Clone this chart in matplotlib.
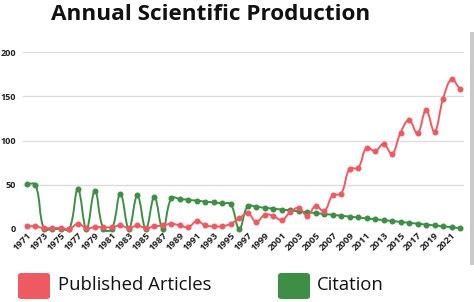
import numpy as np
import matplotlib
matplotlib.use("Agg")
import matplotlib.pyplot as plt
from matplotlib.path import Path
from matplotlib.patches import PathPatch, FancyBboxPatch, Rectangle

years = list(range(1971, 2023))

published = [3, 3, 1, 1, 1, 0, 6, 1, 2, 2, 2, 4, 1, 4, 1, 3, 4, 6, 4, 2,
             9, 4, 3, 3, 6, 12, 18, 8, 16, 15, 10, 19, 24, 15, 26, 20, 38, 40, 68, 69,
             92, 88, 96, 85, 109, 123, 108, 134, 110, 147, 169, 158]

citation = [51, 50, 0, 0, 0, 0, 45, 0, 43, 0, 0, 40, 0, 38, 0, 36, 0, 35, 34, 33,
            32, 31, 30, 29, 28, 0, 26, 25, 24, 23, 22, 21, 20, 19, 18, 17, 16, 15, 14, 13,
            12, 11, 10, 9, 8, 7, 6, 5, 4, 3, 2, 1]

tick_years = list(range(1971, 2022, 2))
y_ticks = [0, 50, 100, 150, 200]

series_names = ["Published Articles", "Citation"]
RED = "#ee5a62"
GREEN = "#3e8e46"
FONT = ["Open Sans", "DejaVu Sans"]


def smooth_path(ax, xs, ys, tension=0.4):
    """Bezier path through the points, chart.js style spline."""
    pts = ax.transData.transform(np.column_stack([xs, ys]))
    n = len(pts)
    verts = [pts[0]]
    codes = [Path.MOVETO]
    ctrl_prev = []
    ctrl_next = []
    for i in range(n):
        p0 = pts[max(i - 1, 0)]
        p1 = pts[i]
        p2 = pts[min(i + 1, n - 1)]
        d01 = np.hypot(*(p1 - p0))
        d12 = np.hypot(*(p2 - p1))
        tot = d01 + d12 if d01 + d12 > 0 else 1
        fa = tension * d01 / tot
        fb = tension * d12 / tot
        ctrl_prev.append(p1 - fa * (p2 - p0))
        ctrl_next.append(p1 + fb * (p2 - p0))
    for i in range(1, n):
        verts += [ctrl_next[i - 1], ctrl_prev[i], pts[i]]
        codes += [Path.CURVE4] * 3
    verts = ax.transData.inverted().transform(np.array(verts))
    return Path(verts, codes)


fig = plt.figure(figsize=(4.74, 3.02), dpi=100)
ax = fig.add_axes([23 / 474, 73 / 302, 441 / 474, 177 / 302])
ax.set_xlim(1970.53, 2022.47)
ax.set_ylim(0, 200)

for s in ax.spines.values():
    s.set_visible(False)
ax.set_yticks(y_ticks)
ax.set_xticks(tick_years)
ax.grid(axis="y", color="#dcdcdc", linewidth=1)
ax.grid(axis="x", visible=False)
ax.set_axisbelow(True)
ax.tick_params(length=0)
ax.set_yticklabels([str(v) for v in y_ticks], fontsize=6.5, fontweight="bold",
                   family=FONT, color="#222222")
ax.set_xticklabels([str(v) for v in tick_years], fontsize=6.8, fontweight="bold",
                   family=FONT, color="#222222", rotation=45, ha="right", va="top",
                   rotation_mode="anchor")
ax.tick_params(axis="y", pad=5)
ax.tick_params(axis="x", pad=1)

for vals, col, z in [(citation, GREEN, 3), (published, RED, 4)]:
    ax.add_patch(PathPatch(smooth_path(ax, years, vals), fill=False,
                           edgecolor=col, linewidth=1.4, zorder=z, clip_on=False))
    ax.plot(years, vals, "o", color=col, markersize=3.3, zorder=z, clip_on=False)

fig.text(211 / 474, 1 - 14 / 302, "Annual Scientific Production", ha="center",
         va="center", fontsize=16.2, fontweight="bold", fontstretch="normal",
         family=FONT, color="#111111")

# legend
for x0, col, name, tx in [(18, RED, series_names[0], 58), (278, GREEN, series_names[1], 317)]:
    fig.patches.append(FancyBboxPatch((x0 / 474, 1 - 299 / 302), 32 / 474, 26 / 302,
                                      boxstyle="round,pad=0,rounding_size=0.008",
                                      transform=fig.transFigure, facecolor=col,
                                      edgecolor="none"))
    fig.text(tx / 474, 1 - 285 / 302, name, ha="left", va="center",
             fontsize=13.3, family=FONT, color="#111111")

fig.patches.append(Rectangle((470 / 474, 1 - 265 / 302), 4 / 474, 233 / 302,
                             transform=fig.transFigure, facecolor="#cacaca",
                             edgecolor="none"))

fig.savefig("out.png", dpi=100)
